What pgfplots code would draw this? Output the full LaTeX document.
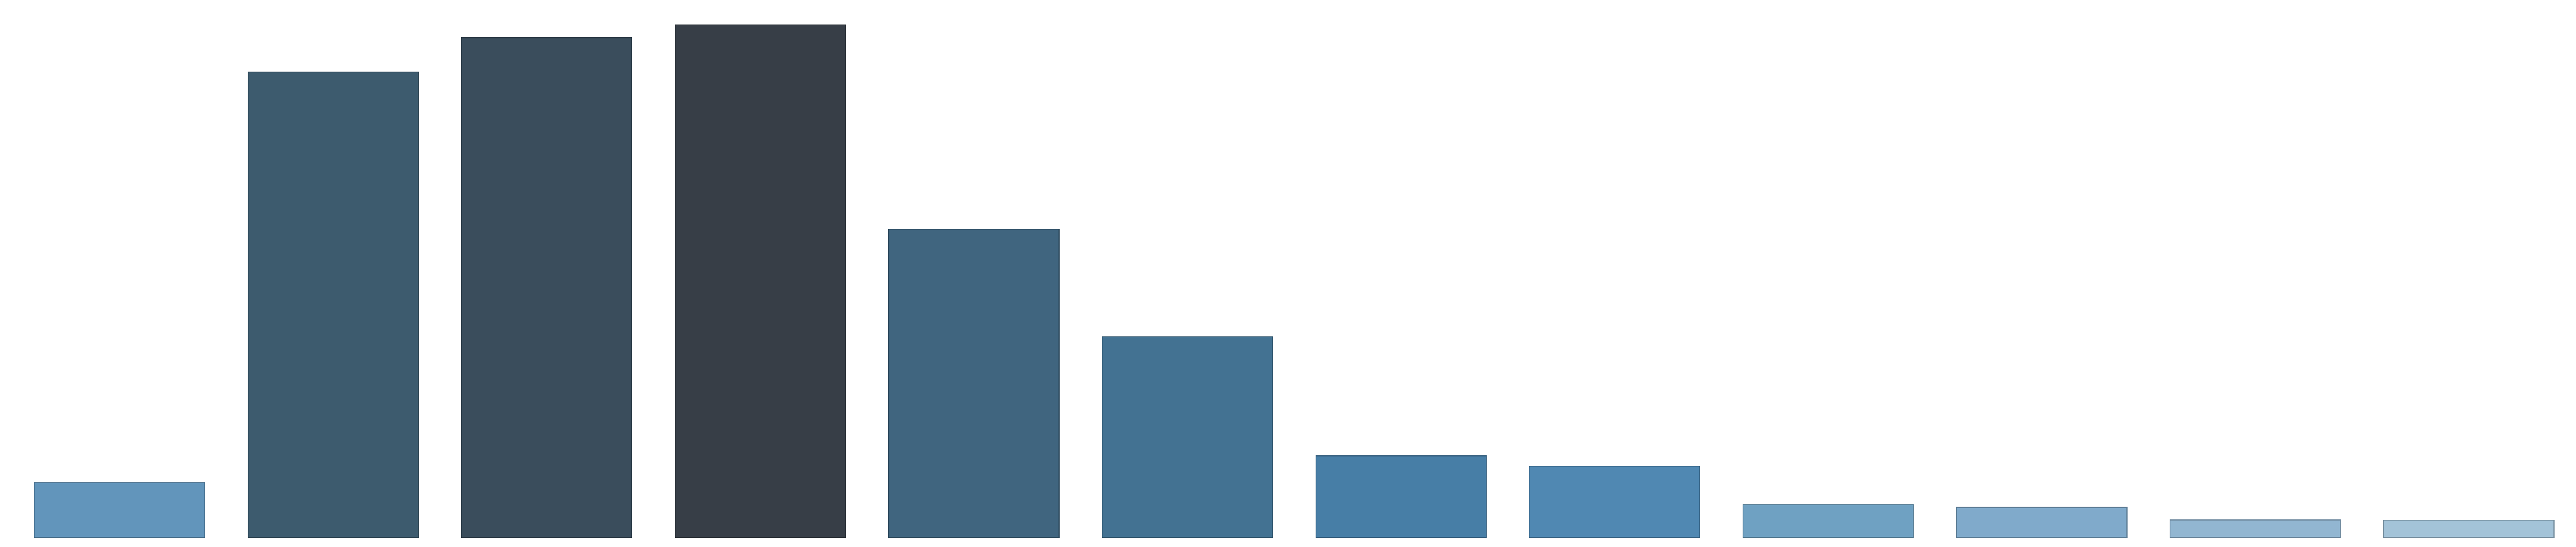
\documentclass[border=0pt]{standalone}
\usepackage{pgfplots}
\pgfplotsset{compat=1.18}
\definecolor{c1}{HTML}{6295BB}
\definecolor{c2}{HTML}{3D5B6E}
\definecolor{c3}{HTML}{3A4D5C}
\definecolor{c4}{HTML}{373E47}
\definecolor{c5}{HTML}{40657F}
\definecolor{c6}{HTML}{437292}
\definecolor{c7}{HTML}{477EA6}
\definecolor{c8}{HTML}{5088B2}
\definecolor{c9}{HTML}{6FA1C2}
\definecolor{c10}{HTML}{80AACB}
\definecolor{c11}{HTML}{92B6D1}
\definecolor{c12}{HTML}{A3C3D8}
\begin{document}
\begin{tikzpicture}
\begin{axis}[
  scale only axis,
  width=673.9pt, height=143.1pt,
  xmin=-0.560, xmax=11.502,
  ymin=-24.3, ymax=1406.7,
  hide axis,
  ybar, bar width=0.798, bar shift=0pt,
  clip=false,
]
\path[use as bounding box] (rel axis cs:0,0) rectangle (rel axis cs:1,1);
\addplot[fill=c1, draw=c1!75!black, line width=0.2pt] coordinates {(0,144)};
\addplot[fill=c2, draw=c2!75!black, line width=0.2pt] coordinates {(1,1218)};
\addplot[fill=c3, draw=c3!75!black, line width=0.2pt] coordinates {(2,1308)};
\addplot[fill=c4, draw=c4!75!black, line width=0.2pt] coordinates {(3,1342)};
\addplot[fill=c5, draw=c5!75!black, line width=0.2pt] coordinates {(4,807)};
\addplot[fill=c6, draw=c6!75!black, line width=0.2pt] coordinates {(5,526)};
\addplot[fill=c7, draw=c7!75!black, line width=0.2pt] coordinates {(6,214)};
\addplot[fill=c8, draw=c8!75!black, line width=0.2pt] coordinates {(7,187)};
\addplot[fill=c9, draw=c9!75!black, line width=0.2pt] coordinates {(8,86)};
\addplot[fill=c10, draw=c10!75!black, line width=0.2pt] coordinates {(9,79)};
\addplot[fill=c11, draw=c11!75!black, line width=0.2pt] coordinates {(10,46)};
\addplot[fill=c12, draw=c12!75!black, line width=0.2pt] coordinates {(11,45)};
\end{axis}
\end{tikzpicture}
\end{document}
